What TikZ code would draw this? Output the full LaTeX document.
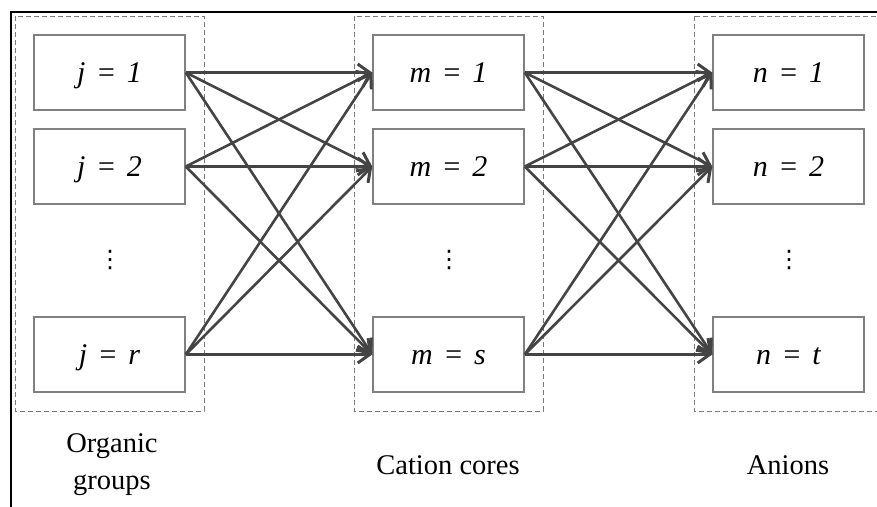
\documentclass[tikz,border=0pt]{standalone}
\usepackage{fontspec}
\setmainfont{Liberation Serif}
\newfontfamily\dotsfont{DejaVu Sans}
\usetikzlibrary{arrows.meta}
\definecolor{arrowgray}{HTML}{444444}
\definecolor{boxgray}{HTML}{808080}
\definecolor{dashgray}{HTML}{7A7A7A}
\newcommand{\eqsp}{\hspace{0.35em}=\hspace{0.35em}}
\tikzset{
  itembox/.style={draw=boxgray, line width=1.5pt, minimum width=151pt, minimum height=75pt, inner sep=0pt, text height=20pt, text depth=0pt, font=\fontsize{30}{34}\selectfont\itshape},
  groupbox/.style={draw=dashgray, line width=1pt, dash pattern=on 5pt off 3pt},
  link/.style={draw=arrowgray, line width=2.6pt, -{Straight Barb[length=12pt,width=17pt,line width=3pt]}},
  caption/.style={font=\fontsize{28.5}{37}\selectfont, align=center, inner sep=0pt},
  vdotsnode/.style={font=\dotsfont\fontsize{24}{28}\selectfont, inner sep=0pt}
}
\begin{document}
\begin{tikzpicture}[x=1pt,y=-1pt]
\useasboundingbox (0,0) rectangle (877,506);
\begin{scope}
\clip (0,0) rectangle (877,506);
% frame
\draw[line width=2pt] (877,12) -- (11,12) -- (11,507);
% dashed groups
\draw[groupbox] (15,16) rectangle (204,411);
\draw[groupbox] (354,16) rectangle (543,411);
\draw[groupbox] (694,16) rectangle (890,411);
\end{scope}
% nodes
\node[itembox] (j1) at (109.5,72.5) {j\eqsp 1};
\node[itembox] (j2) at (109.5,166.5) {j\eqsp 2};
\node[vdotsnode] (jd) at (110,260) {⋮};
\node[itembox] (jr) at (109.5,354.5) {j\eqsp r};
\node[itembox] (m1) at (448.5,72.5) {m\eqsp 1};
\node[itembox] (m2) at (448.5,166.5) {m\eqsp 2};
\node[vdotsnode] (md) at (449,260) {⋮};
\node[itembox] (ms) at (448.5,354.5) {m\eqsp s};
\node[itembox] (n1) at (788.5,72.5) {n\eqsp 1};
\node[itembox] (n2) at (788.5,166.5) {n\eqsp 2};
\node[vdotsnode] (nd) at (789,260) {⋮};
\node[itembox] (nt) at (788.5,354.5) {n\eqsp t};
% links
\foreach \a in {j1,j2,jr}{
  \foreach \b in {m1,m2,ms}{
    \draw[link] (\a.east) -- (\b.west);
  }
}
\foreach \a in {m1,m2,ms}{
  \foreach \b in {n1,n2,nt}{
    \draw[link] (\a.east) -- (\b.west);
  }
}
% captions
\node[caption] (c1) at (112,465) {Organic\\groups};
\node[caption] (c2) at (448,465) {Cation cores};
\node[caption] (c3) at (788,465) {Anions};
\end{tikzpicture}
\end{document}
